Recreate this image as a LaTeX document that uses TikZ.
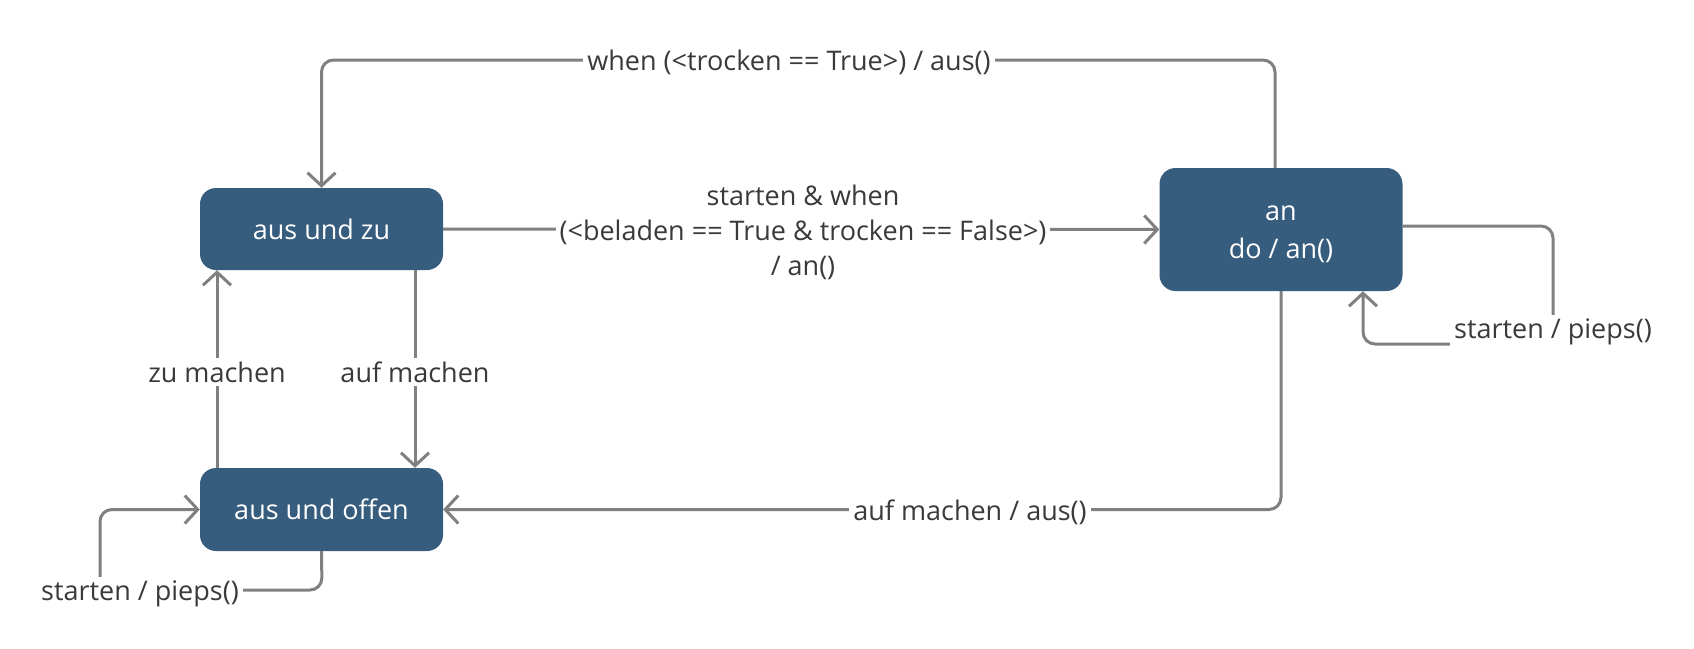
\documentclass[tikz,border=0pt]{standalone}
\usepackage{fontspec}
\setmainfont{Open Sans}
\usetikzlibrary{arrows.meta,calc}
\definecolor{boxblue}{HTML}{365C7E}
\definecolor{edgegray}{HTML}{808080}
\definecolor{txtgray}{HTML}{3A3A3A}
\tikzset{
  statebox/.style={fill=boxblue, draw=none, rounded corners=16pt, text=white,
    font=\fontsize{27}{38}\selectfont, align=center, inner sep=0pt},
  statetext/.style={text=white, font=\fontsize{27}{38}\selectfont, align=center, inner sep=0pt},
  edge/.style={draw=edgegray, line width=3pt, rounded corners=12pt,
    -{Straight Barb[length=13pt,width=28pt,line width=3pt]}},
  lbl/.style={fill=white, text=txtgray, font=\fontsize{27}{35}\selectfont,
    align=center, inner sep=4pt}
}
\begin{document}
\begin{tikzpicture}[x=1pt,y=-1pt]
\useasboundingbox (0,0) rectangle (1694,648);
\node[statebox, minimum width=243pt, minimum height=82pt] (zu) at (321.5,229) {aus und zu};
\node[statebox, minimum width=243pt, minimum height=83pt] (offen) at (321.5,509.5) {aus und offen};
\node[statebox, minimum width=243pt, minimum height=123pt] (an) at (1281,229.5) {};
\node[statetext] (antext) at ([yshift=-5pt]an.center) {an\\do / an()};

\coordinate (topy) at (0,60);
\coordinate (anup) at ([xshift=-6pt]an.north);
\draw[edge] (anup) -- (anup |- topy) -- (zu.north |- topy) -- (zu.north);

\draw[edge] (zu.east) -- (an.west);

\coordinate (loopA) at (1553,226);
\coordinate (loopB) at (1553,344);
\coordinate (loopC) at (1363,344);
\draw[edge] (an.east |- loopA) -- (loopA) -- (loopB) -- (loopC) -- (loopC |- an.south);

\coordinate (loopD) at (322,590);
\coordinate (loopE) at (100,590);
\coordinate (loopF) at (100,509.5);
\draw[edge] (offen.south) -- (loopD) -- (loopE) -- (loopF) -- (offen.west);

\coordinate (aufx) at (415,0);
\coordinate (zux) at (217,0);
\draw[edge] (aufx |- zu.south) -- (aufx |- offen.north);
\draw[edge] (zux |- offen.north) -- (zux |- zu.south);

\draw[edge] (an.south) -- (an.south |- offen.east) -- (offen.east);

\node[lbl] (ltop) at (789,62) {when (<trocken == True>) / aus()};
\node[lbl] (lmid) at (803,232) {starten \& when\\(<beladen == True \& trocken == False>)\\/ an()};
\node[lbl] (lzu) at (217,372) {zu machen};
\node[lbl] (lauf) at (415,372) {auf machen};
\node[lbl] (lbot) at (970,512) {auf machen / aus()};
\node[lbl] (lan) at (1553,332) {starten / pieps()};
\node[lbl] (loff) at (140,594) {starten / pieps()};
\end{tikzpicture}
\end{document}
